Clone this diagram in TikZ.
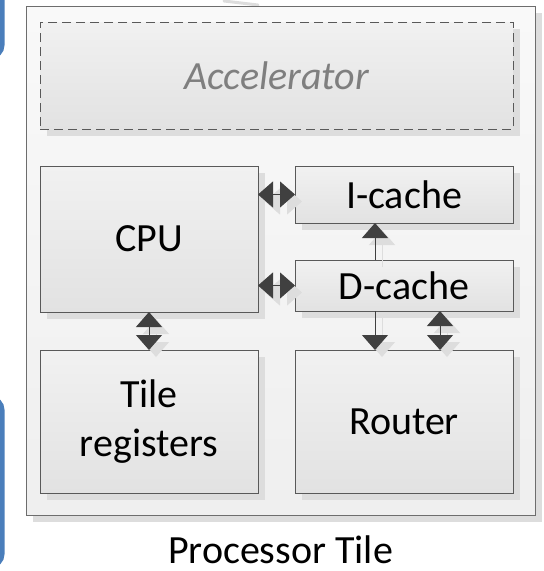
\documentclass[tikz,border=0pt]{standalone}
\usepackage{fontspec}
\setmainfont{Carlito}
\usetikzlibrary{arrows.meta,shadows}

\definecolor{tileborder}{HTML}{6D6D6D}
\definecolor{tiletop}{HTML}{F9F9F9}
\definecolor{tilebottom}{HTML}{EFEFEF}
\definecolor{boxborder}{HTML}{595959}
\definecolor{boxtop}{HTML}{F1F1F1}
\definecolor{boxbottom}{HTML}{E2E2E2}
\definecolor{shadowgray}{HTML}{DDDDDD}
\definecolor{arrowgray}{HTML}{404040}
\definecolor{accelgray}{HTML}{7F7F7F}
\definecolor{edgeblue}{HTML}{4A7EBB}

\tikzset{
  blockfont/.style={font=\fontsize{40}{49}\selectfont},
  tilebox/.style={rectangle, draw=tileborder, line width=1pt, outer sep=0pt,
    top color=tiletop, bottom color=tilebottom,
    general shadow={fill=shadowgray, shadow xshift=7pt, shadow yshift=-7pt}},
  unit/.style={rectangle, draw=boxborder, line width=1pt, outer sep=0pt,
    top color=boxtop, bottom color=boxbottom, blockfont, align=center,
    general shadow={fill=shadowgray, shadow xshift=7pt, shadow yshift=-7pt}},
  accel/.style={unit, dash pattern=on 9pt off 5pt, text=accelgray,
    font=\fontsize{40}{49}\selectfont\itshape},
  link/.style={draw=arrowgray, line width=1pt,
    -{Triangle[width=26pt,length=15pt]}},
  duallink/.style={draw=arrowgray, line width=1pt,
    {Triangle[width=26pt,length=15pt]}-{Triangle[width=26pt,length=15pt]}},
  linkshade/.style={draw=shadowgray, fill=shadowgray,
    transform canvas={shift={(7pt,-7pt)}}},
}

\begin{document}
\begin{tikzpicture}[x=1pt,y=-1pt]
  \useasboundingbox (0,0) rectangle (544,571);
  \clip (0,0) rectangle (544,571);

  % edges of the neighbouring panel
  \draw[edgeblue, line width=4.5pt, rounded corners=12pt]
    (2.3,-10) -- (2.3,57) -- (-30,57);
  \draw[edgeblue, line width=4.5pt, rounded corners=12pt]
    (-30,398) -- (2.3,398) -- (2.3,566) -- (-30,566);
  \draw[shadowgray, line width=3pt, line cap=round] (224,1) -- (258,5);

  % tile frame
  \node[tilebox, minimum width=509pt, minimum height=509pt] (tile) at (280.5,260.5) {};

  % functional units
  \node[accel, minimum width=473pt, minimum height=107pt] (acc) at (276.5,75.5) {Accelerator};
  \node[unit, minimum width=218pt, minimum height=146pt] (cpu) at (149,239) {CPU};
  \node[unit, minimum width=218pt, minimum height=57pt] (icache) at (404,194.5) {I-cache};
  \node[unit, minimum width=218pt, minimum height=51pt] (dcache) at (404,285.5) {D-cache};
  \node[unit, minimum width=218pt, minimum height=143pt] (treg) at (149,421.5) {Tile\\registers};
  \node[unit, minimum width=218pt, minimum height=143pt] (router) at (404,421.5) {Router};

  \node[blockfont, anchor=base, inner sep=0pt] (caption) at (280.5,563) {Processor Tile};

  % connector shadows
  \begin{scope}[linkshade]
    \draw[duallink, draw=shadowgray] (cpu.east |- icache.west) -- (icache.west);
    \draw[duallink, draw=shadowgray] (cpu.east |- dcache.west) -- (dcache.west);
    \draw[link, draw=shadowgray] ([xshift=80pt]dcache.north west) -- ([xshift=80pt]icache.south west);
    \draw[link, draw=shadowgray] ([xshift=80pt]dcache.south west) -- ([xshift=80pt]router.north west);
    \draw[duallink, draw=shadowgray] ([xshift=145pt]dcache.south west) -- ([xshift=145pt]router.north west);
    \draw[duallink, draw=shadowgray] (cpu.south) -- (treg.north);
  \end{scope}

  % connectors
  \draw[duallink] (cpu.east |- icache.west) -- (icache.west);
  \draw[duallink] (cpu.east |- dcache.west) -- (dcache.west);
  \draw[link] ([xshift=80pt]dcache.north west) -- ([xshift=80pt]icache.south west);
  \draw[link] ([xshift=80pt]dcache.south west) -- ([xshift=80pt]router.north west);
  \draw[duallink] ([xshift=145pt]dcache.south west) -- ([xshift=145pt]router.north west);
  \draw[duallink] (cpu.south) -- (treg.north);
\end{tikzpicture}
\end{document}
